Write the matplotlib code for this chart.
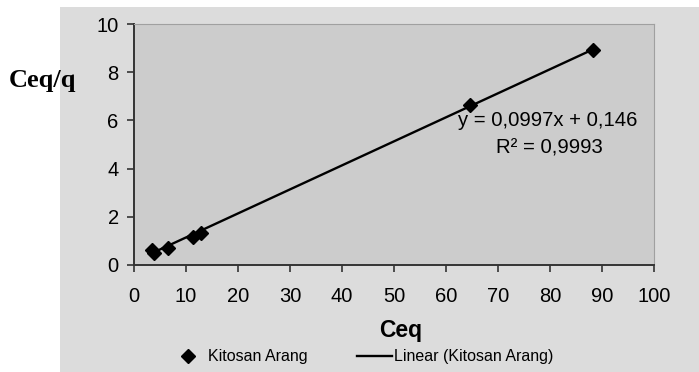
import matplotlib.pyplot as plt
import numpy as np
from matplotlib.patches import Rectangle

# data
ceq = [3.4, 3.85, 6.5, 11.3, 12.9, 64.6, 88.3]
ceq_q = [0.62, 0.50, 0.72, 1.18, 1.32, 6.64, 8.92]

# trendline printed on the chart
slope = 0.0997
intercept = 0.146
r2_text = "0,9993"

x_ticks = [0, 10, 20, 30, 40, 50, 60, 70, 80, 90, 100]
y_ticks = [0, 2, 4, 6, 8, 10]

plt.rcParams["font.family"] = ["Liberation Sans", "DejaVu Sans"]

fig = plt.figure(figsize=(6.99, 3.72), dpi=100)
fig.patch.set_facecolor("white")
fig.patches.append(Rectangle((60 / 699, 0), 1 - 60 / 699, 365 / 372,
                             transform=fig.transFigure, facecolor="#dcdcdc",
                             edgecolor="none", zorder=-5))

ax = fig.add_axes([134 / 699, 107 / 372, 520 / 699, 241 / 372])
ax.set_facecolor("#cccccc")

ax.plot(ceq, ceq_q, linestyle="none", marker="D", markersize=7,
        color="black", label="Kitosan Arang", zorder=3)
x_fit = np.array([min(ceq), max(ceq)])
ax.plot(x_fit, slope * x_fit + intercept, color="black", linewidth=1.7,
        label="Linear (Kitosan Arang)", zorder=2)

ax.set_xlim(0, 100)
ax.set_ylim(0, 10)
ax.set_xticks(x_ticks)
ax.set_yticks(y_ticks)
ax.tick_params(axis="both", labelsize=14.5, length=5, width=1.2,
               color="#333333", direction="out")
ax.tick_params(axis="x", pad=11)
ax.tick_params(axis="y", pad=6)

for side in ["left", "bottom"]:
    ax.spines[side].set_color("#333333")
    ax.spines[side].set_linewidth(1.4)
for side in ["top", "right"]:
    ax.spines[side].set_color("#a0a0a0")
    ax.spines[side].set_linewidth(0.8)

ax.text(548, 372 - 120, "y = 0,0997x + 0,146", transform=None, fontsize=14.6,
        ha="center", va="center")
ax.text(549, 372 - 148, "R² = " + r2_text, transform=None, fontsize=14.6,
        ha="center", va="center")

fig.text(43 / 699, 1 - 80 / 372, "Ceq/q", family="Liberation Serif",
         fontweight="bold", fontsize=19, ha="center", va="center")
fig.text(401 / 699, 1 - 330 / 372, "Ceq", fontweight="bold", fontsize=16.5,
         ha="center", va="center")

fig.legend(loc="center", bbox_to_anchor=(362 / 699, 1 - 357 / 372), ncol=2,
           frameon=False, fontsize=11.5, handlelength=2.2,
           handletextpad=0.15, columnspacing=3.1, borderpad=0)

fig.savefig("out.png", dpi=100)
